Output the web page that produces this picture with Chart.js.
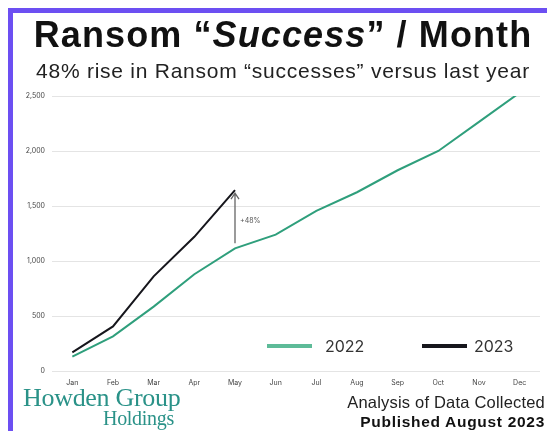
<!DOCTYPE html>
<html>
<head>
<meta charset="utf-8">
<script src="https://cdn.jsdelivr.net/npm/chart.js@4.4.0/dist/chart.umd.min.js"></script>
<style>
    html, body { margin: 0; padding: 0; background: #fff; }
    #wrap { position: relative; width: 547px; height: 431px; overflow: hidden; }
    #frame { position: absolute; left: 8px; top: 8px; width: 560px; height: 440px;
             border-left: 5px solid #6c4ff2; border-top: 5px solid #6c4ff2; }
    #myChart { position: absolute; left: 0; top: 0; }
    .txt { position: absolute; white-space: nowrap; }
    #title { left: 0; width: 566px; text-align: center; top: 14px; font: bold 36px "Liberation Sans", Arial, sans-serif; letter-spacing: 1.1px; color: #111; }
    #subtitle { left: 0; width: 566px; text-align: center; top: 59px; font: 21px "Liberation Sans", Arial, sans-serif; letter-spacing: 0.75px; color: #222; }
    #logo1 { left: 23px; top: 383px; font: 26px "Liberation Serif", "DejaVu Serif", serif; color: #2a9288; letter-spacing: -0.3px; }
    #logo2 { left: 103px; top: 407px; font: 20px "Liberation Serif", "DejaVu Serif", serif; color: #2a9288; letter-spacing: -0.3px; }
    #note1 { right: 2px; top: 393px; font: 16.5px "Liberation Sans", Arial, sans-serif; letter-spacing: 0.2px; color: #222; }
    #note2 { right: 2px; top: 413px; font: bold 15.5px "Liberation Sans", Arial, sans-serif; letter-spacing: 0.7px; color: #111; }
</style>
</head>
<body>
<div id="wrap">
    <div id="frame"></div>
    <canvas id="myChart" width="547" height="431"></canvas>
    <div class="txt" id="title">Ransom “<i>Success</i>” / Month</div>
    <div class="txt" id="subtitle">48% rise in Ransom “successes” versus last year</div>
    <div class="txt" id="logo1">Howden Group</div>
    <div class="txt" id="logo2">Holdings</div>
    <div class="txt" id="note1">Analysis of Data Collected</div>
    <div class="txt" id="note2">Published August 2023</div>
</div>
<script>
const months = ["Jan", "Feb", "Mar", "Apr", "May", "Jun", "Jul", "Aug", "Sep", "Oct", "Nov", "Dec"];
const values2022 = [130, 315, 585, 880, 1115, 1240, 1455, 1625, 1825, 2000, 2265, 2530];
const values2023 = [170, 405, 860, 1220, 1645];
const seriesNames = ["2022", "2023"];
const seriesColors = ["#2f9f7c", "#16161c"];
const yTicks = [0, 500, 1000, 1500, 2000, 2500];
const riseLabel = "+48%";

// legend drawn inside the plot, bottom right
const legendInside = {
    id: "legendInside",
    afterDatasetsDraw(chart) {
        const ctx = chart.ctx;
        const a = chart.chartArea;
        const y = a.bottom - 25;
        const starts = [a.left + 215, a.left + 370];
        const gaps = [58, 52];
        ctx.save();
        seriesNames.forEach((name, i) => {
            ctx.strokeStyle = i == 0 ? "#5dbb98" : "#16161c";
            ctx.lineWidth = 4;
            ctx.beginPath();
            ctx.moveTo(starts[i], y);
            ctx.lineTo(starts[i] + 45, y);
            ctx.stroke();
            ctx.fillStyle = "#333";
            ctx.font = "16px Inter, 'Noto Sans', sans-serif";
            ctx.textBaseline = "middle";
            ctx.fillText(name, starts[i] + gaps[i], y + 1);
        });
        ctx.restore();
    }
};

// arrow from 2022 to 2023 at the last month of 2023
const riseArrow = {
    id: "riseArrow",
    afterDatasetsDraw(chart) {
        const ctx = chart.ctx;
        const xs = chart.scales.x;
        const ys = chart.scales.y;
        const i = values2023.length - 1;
        const x = xs.getPixelForValue(i);
        const yBottom = ys.getPixelForValue(values2022[i]) - 5;
        const yTop = ys.getPixelForValue(values2023[i]) + 3;
        ctx.save();
        ctx.strokeStyle = "#666";
        ctx.lineWidth = 1.3;
        ctx.beginPath();
        ctx.moveTo(x, yBottom);
        ctx.lineTo(x, yTop);
        ctx.moveTo(x - 4, yTop + 6);
        ctx.lineTo(x, yTop);
        ctx.lineTo(x + 4, yTop + 6);
        ctx.stroke();
        ctx.fillStyle = "#555";
        ctx.font = "7px Inter, 'Noto Sans', sans-serif";
        ctx.textBaseline = "middle";
        ctx.fillText(riseLabel, x + 5, (yBottom + yTop) / 2 + 3);
        ctx.restore();
    }
};

const myChart = new Chart(document.getElementById("myChart"), {
    type: "line",
    data: {
        labels: months,
        datasets: [
            {
                label: seriesNames[0],
                data: values2022,
                borderColor: seriesColors[0],
                borderWidth: 2,
                pointRadius: 0,
                tension: 0
            },
            {
                label: seriesNames[1],
                data: values2023,
                borderColor: seriesColors[1],
                borderWidth: 2,
                pointRadius: 0,
                tension: 0
            }
        ]
    },
    options: {
        responsive: false,
        animation: false,
        layout: {
            padding: { top: 96, left: 12, right: 7, bottom: 42 }
        },
        scales: {
            x: {
                offset: true,
                grid: { display: false },
                border: { display: false },
                ticks: {
                    color: "#444",
                    padding: 0,
                    maxRotation: 0,
                    autoSkip: false,
                    font: { family: "Inter, 'Noto Sans', sans-serif", size: 7 }
                },
                afterFit: (s) => { s.height = 18; }
            },
            y: {
                min: 0,
                max: 2500,
                afterBuildTicks: (s) => { s.ticks = yTicks.map(v => ({ value: v })); },
                grid: { color: "#e4e4e4", drawTicks: false },
                border: { display: false },
                ticks: {
                    color: "#444",
                    padding: 7,
                    font: { family: "Inter, 'Noto Sans', sans-serif", size: 7 },
                    callback: (v) => v.toLocaleString("en-US")
                },
                afterFit: (s) => { s.width = 40; }
            }
        },
        plugins: {
            legend: { display: false },
            tooltip: { enabled: false }
        }
    },
    plugins: [legendInside, riseArrow]
});
</script>
</body>
</html>
